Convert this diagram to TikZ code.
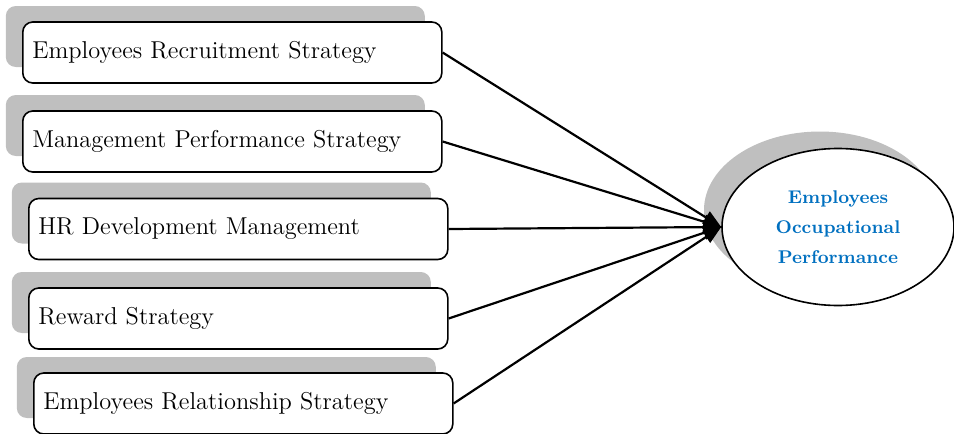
\documentclass[tikz,border=0pt]{standalone}
\usepackage{tikz}
\usetikzlibrary{arrows.meta, shadows, shapes.geometric}

\definecolor{outblue}{RGB}{0,112,192}

\begin{document}
\begin{tikzpicture}[x=0.5pt, y=-0.5pt,
    strategy/.style={draw, thick, fill=white, rounded corners=5pt,
        minimum width=209.5pt, minimum height=30.5pt, text width=200pt,
        align=left, inner sep=4.5pt, anchor=west,
        font=\fontsize{12.2}{14}\selectfont,
        drop shadow={shadow xshift=-8.5pt, shadow yshift=8pt, fill=black!25, opacity=1}},
    outcome/.style={draw, thick, fill=white, ellipse, inner sep=0pt,
        minimum width=116pt, minimum height=78.5pt, align=center,
        text=outblue, font=\fontsize{9.2}{15}\selectfont\bfseries,
        drop shadow={shadow xshift=-9pt, shadow yshift=8.5pt, fill=black!25, opacity=1}},
    link/.style={line width=1.1pt, -{Triangle[length=9pt, width=7pt]}}]
    \useasboundingbox (0,0) rectangle (954,434);

    \node[strategy] (ers) at (22,52.5)  {Employees Recruitment Strategy};
    \node[strategy] (mps) at (22,141.5) {Management Performance Strategy};
    \node[strategy] (hrd) at (28,229)   {HR Development Management};
    \node[strategy] (rws) at (28,318.5) {Reward Strategy};
    \node[strategy] (erl) at (33,403.5) {Employees Relationship Strategy};

    \node[outcome] (eop) at (838,227) {Employees\\Occupational\\Performance};

    \foreach \s in {ers, mps, hrd, rws, erl}
        \draw[link] (\s.east) -- (eop.west);
\end{tikzpicture}
\end{document}
